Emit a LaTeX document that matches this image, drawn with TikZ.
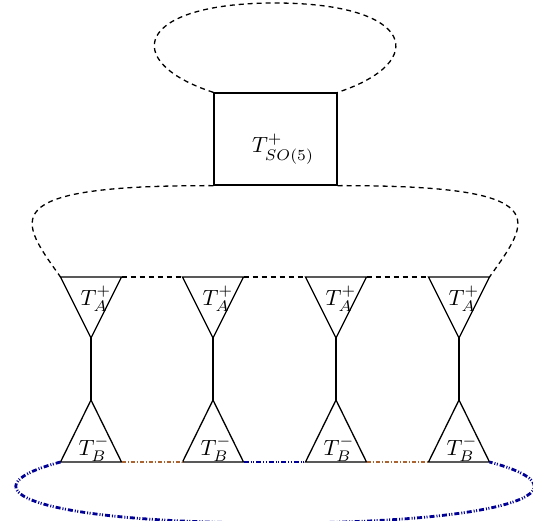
\documentclass[tikz,border=0pt]{standalone}
\usepackage{graphicx}
\usepackage{amsmath}
\newcommand{\biglbl}[1]{\scalebox{2.2}{$#1$}}
\begin{document}
\begin{tikzpicture}[x=1pt,y=-1pt,line width=1.3pt,
  tri/.style={draw=black,line width=1.3pt,line join=miter},
  lbl/.style={inner sep=0pt},
  dsh/.style={dashed,dash pattern=on 5pt off 4pt,line width=1.3pt},
  brownln/.style={draw={rgb,255:red,170;green,100;blue,50},dash pattern=on 4pt off 2pt on 1pt off 2pt,line width=1.2pt},
  blueln/.style={draw={rgb,255:red,0;green,0;blue,150},dash pattern=on 5pt off 2pt on 1pt off 1.5pt on 1pt off 2pt,line width=2.8pt}]
\useasboundingbox (0,0) rectangle (533,520);
% box
\node[draw,line width=1.3pt,minimum width=123pt,minimum height=92pt,inner sep=0pt] (box) at (275.5,139) {};
\node[lbl] (boxlbl) at (283,149) {\biglbl{T^+_{SO(5)}}};
% triangles
\foreach \i/\cx in {1/91,2/213,3/336,4/459}{
  \coordinate (Al\i) at (\cx-30.5,277);
  \coordinate (Ar\i) at (\cx+30.5,277);
  \coordinate (Aa\i) at (\cx,338);
  \coordinate (Ba\i) at (\cx,400);
  \coordinate (Bl\i) at (\cx-30.5,462);
  \coordinate (Br\i) at (\cx+30.5,462);
  \draw[tri] (Al\i) -- (Ar\i) -- (Aa\i) -- cycle;
  \draw[tri] (Ba\i) -- (Br\i) -- (Bl\i) -- cycle;
  \draw[line width=1.3pt] (Aa\i) -- (Ba\i);
  \node[lbl] (LA\i) at (\cx+5,299) {\biglbl{T_A^+}};
  \node[lbl] (LB\i) at (\cx+3,449) {\biglbl{T_B^-}};
}
% dashed connections
\draw[dsh] (box.north west) .. controls (120,62) and (135,3) .. (275,3)
   .. controls (415,3) and (430,62) .. (box.north east);
\draw[dsh] (box.south west) .. controls (-10,185) and (20,220) .. (Al1);
\draw[dsh] (box.south east) .. controls (560,185) and (530,220) .. (Ar4);
\draw[dsh] (Ar1) -- (Al2);
\draw[dsh] (Ar2) -- (Al3);
\draw[dsh] (Ar3) -- (Al4);
% bottom connections
\draw[brownln] (Br1) -- (Bl2);
\draw[blueln] (Br2) -- (Bl3);
\draw[brownln] (Br3) -- (Bl4);
\draw[blueln] (Bl1) .. controls (-45,490) and (40,523) .. (275,523)
   .. controls (510,523) and (595,490) .. (Br4);
\end{tikzpicture}
\end{document}
